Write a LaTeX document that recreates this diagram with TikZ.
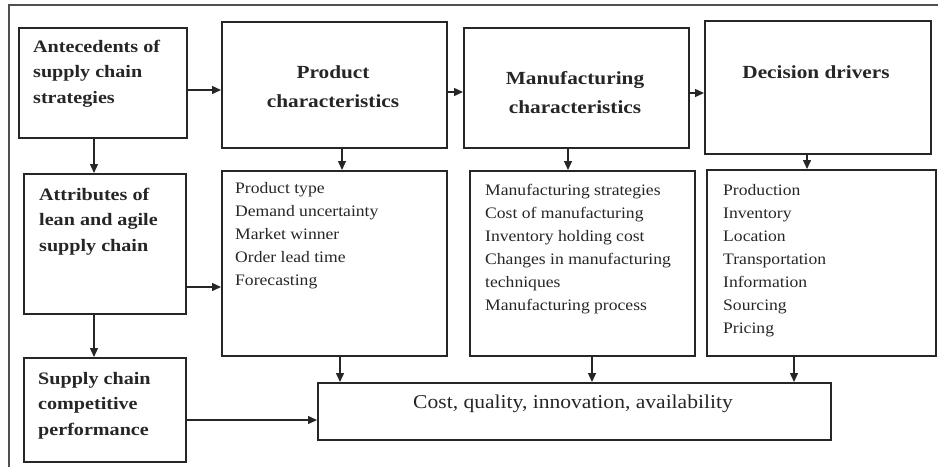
\documentclass[tikz,border=0pt]{standalone}
\usepackage{fontspec}
\setmainfont{Liberation Serif}[FakeStretch=1.1]
\newfontfamily\hdfont{Liberation Serif}[FakeStretch=1.15]
\usetikzlibrary{arrows.meta}
\definecolor{ink}{HTML}{262626}
\definecolor{framec}{HTML}{505050}
\begin{document}
\begin{tikzpicture}[x=1pt,y=-1pt,
  box/.style={draw=ink, line width=1.6pt, inner sep=0pt, anchor=north west},
  arr/.style={draw=ink, line width=1.4pt, -{Triangle[length=9pt,width=8pt]}},
  hd/.style={font=\hdfont\bfseries\fontsize{18.5}{29}\selectfont, text=ink, align=center, inner sep=0pt, anchor=base},
  lb/.style={font=\hdfont\bfseries\fontsize{17.5}{25.5}\selectfont, text=ink, align=left, inner sep=0pt, anchor=base west},
  li/.style={font=\fontsize{16}{23}\selectfont, text=ink, align=left, inner sep=0pt, anchor=base west},
]
\useasboundingbox (0,0) rectangle (938,467);
\draw[framec, line width=1.8pt] (9,467) -- (9,5) -- (938,5);

% boxes
\node[box, minimum width=168pt, minimum height=110pt] (ante) at (18,27) {};
\node[box, minimum width=225pt, minimum height=126pt] (prod) at (221,21) {};
\node[box, minimum width=225pt, minimum height=120pt] (manu) at (463,27) {};
\node[box, minimum width=226pt, minimum height=133pt] (deci) at (704,20) {};
\node[box, minimum width=162pt, minimum height=140pt] (attr) at (23,173) {};
\node[box, minimum width=225pt, minimum height=185pt] (plist) at (221,170) {};
\node[box, minimum width=225pt, minimum height=185pt] (mlist) at (469,170) {};
\node[box, minimum width=229pt, minimum height=186pt] (dlist) at (706,169) {};
\node[box, minimum width=162pt, minimum height=104pt] (scp) at (23,357) {};
\node[box, minimum width=513pt, minimum height=57pt] (cost) at (317,382) {};

% texts (anchor = baseline of the last line)
\node[lb] (antet) at (33,103) {Antecedents of\\supply chain\\strategies};
\node[lb] (attrt) at (39,251) {Attributes of\\lean and agile\\supply chain};
\node[lb] (scpt) at (38,435) {Supply chain\\competitive\\performance};
\node[hd] (prodt) at (333,107.5) {Product\\characteristics};
\node[hd] (manut) at (575,113.5) {Manufacturing\\characteristics};
\node[hd] (decit) at (816,78) {Decision drivers};
\node[li] (plistt) at (235,285) {Product type\\Demand uncertainty\\Market winner\\Order lead time\\Forecasting};
\node[li] (mlistt) at (485,310) {Manufacturing strategies\\Cost of manufacturing\\Inventory holding cost\\Changes in manufacturing\\techniques\\Manufacturing process};
\node[li] (dlistt) at (723,333) {Production\\Inventory\\Location\\Transportation\\Information\\Sourcing\\Pricing};
\node[font=\fontsize{19.6}{24}\selectfont, text=ink, inner sep=0pt, anchor=base] (costt) at (573,408) {Cost, quality, innovation, availability};

% connectors
\draw[arr] (ante.east |- 0,90) -- (prod.west |- 0,90);
\draw[arr] (prod.east |- 0,92) -- (manu.west |- 0,92);
\draw[arr] (manu.east |- 0,93) -- (deci.west |- 0,93);
\draw[arr] (ante.south -| 94,0) -- (attr.north -| 94,0);
\draw[arr] (prod.south -| 342,0) -- (plist.north -| 342,0);
\draw[arr] (manu.south -| 568,0) -- (mlist.north -| 568,0);
\draw[arr] (deci.south -| 807,0) -- (dlist.north -| 807,0);
\draw[arr] (attr.east |- 0,287) -- (plist.west |- 0,287);
\draw[arr] (attr.south -| 94,0) -- (scp.north -| 94,0);
\draw[arr] (scp.east |- 0,420) -- (cost.west |- 0,420);
\draw[arr] (plist.south -| 340,0) -- (cost.north -| 340,0);
\draw[arr] (mlist.south -| 592,0) -- (cost.north -| 592,0);
\draw[arr] (dlist.south -| 794,0) -- (cost.north -| 794,0);
\end{tikzpicture}
\end{document}
